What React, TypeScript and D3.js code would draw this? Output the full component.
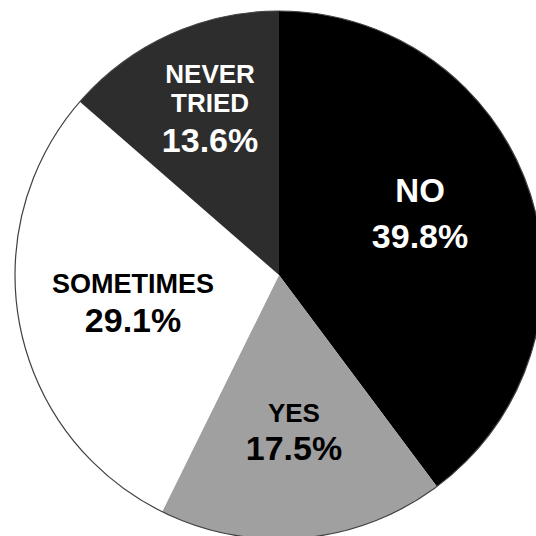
import React from "react";
import * as d3 from "d3";

const categories = ["NO", "YES", "SOMETIMES", "NEVER TRIED"];
const values = [39.8, 17.5, 29.1, 13.6];
const colors = ["#000000", "#a0a0a0", "#ffffff", "#2d2d2d"];
const textColors = ["#ffffff", "#000000", "#000000", "#ffffff"];

const W = 536;
const H = 536;
const cx = 279;
const cy = 275;
const R = 264;

// label placement: percent-line baseline in polar terms relative to slice middle
const labelRadius = [143.6, 185.6, 156.7, 141];
const labelAngleShift = [7.6, 0.6, -10, -4.8];
const labelLines: string[][] = [["NO"], ["YES"], ["SOMETIMES"], ["NEVER", "TRIED"]];
const catSize = [33, 26, 27, 26];
const catGap = [46, 38, 39, 40];

export default function App() {
  const pie = d3.pie<number>().sort(null).value((d) => d)(values);
  const arc = d3.arc<d3.PieArcDatum<number>>().innerRadius(0).outerRadius(R);
  return (
    <svg width={W} height={H} style={{ position: "absolute", left: 0, top: 0 }}>
      <rect width={W} height={H} fill="#ffffff" />
      <g transform={`translate(${cx},${cy})`}>
        {pie.map((p, i) => (
          <path key={i} d={arc(p) || ""} fill={colors[i]} stroke="none" />
        ))}
        <circle r={R} fill="none" stroke="#404040" strokeWidth={1.2} />
        {pie.map((p, i) => {
          const a = (p.startAngle + p.endAngle) / 2 + (labelAngleShift[i] * Math.PI) / 180;
          const r = labelRadius[i];
          const x = Math.sin(a) * r;
          const y = -Math.cos(a) * r;
          const lines = labelLines[i];
          const lh = 29;
          const n = lines.length;
          return (
            <g key={"l" + i} fill={textColors[i]} fontFamily="Liberation Sans, Arial, sans-serif" fontWeight="bold" textAnchor="middle">
              {lines.map((t, j) => (
                <text key={j} x={x} y={y - catGap[i] - (n - 1 - j) * lh} fontSize={catSize[i]}>
                  {t}
                </text>
              ))}
              <text x={x} y={y} fontSize={34}>
                {values[i].toFixed(1) + "%"}
              </text>
            </g>
          );
        })}
      </g>
    </svg>
  );
}
